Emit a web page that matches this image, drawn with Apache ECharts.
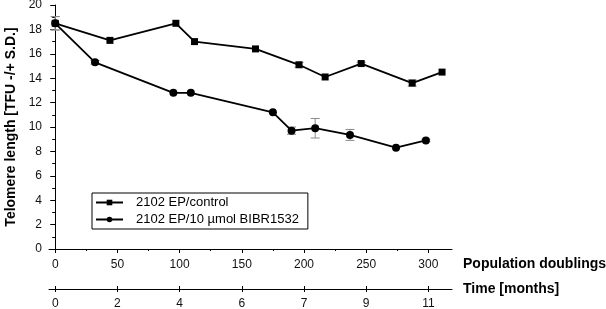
<!DOCTYPE html>
<html>
<head>
<meta charset="utf-8">
<script src="https://cdn.jsdelivr.net/npm/echarts@6/dist/echarts.min.js"></script>
<style>
  html, body { margin: 0; padding: 0; background: #fff; }
  #chart { width: 606px; height: 309px; }
</style>
</head>
<body>
<div id="chart"></div>
<script>
// Telomere length vs population doublings (control vs BIBR1532)
const FONT = "'Liberation Sans', Arial, sans-serif";

const popControl = [0, 44, 97, 112, 161, 196, 217, 246, 287, 311];
const telControl = [18.5, 17.1, 18.5, 17.0, 16.4, 15.1, 14.1, 15.2, 13.6, 14.5];
const sdControl = [0.55, 0, 0, 0, 0, 0.2, 0, 0.1, 0.25, 0];

const popBibr = [0, 32, 95, 109, 175, 190, 209, 237, 274, 298];
const telBibr = [18.5, 15.3, 12.8, 12.8, 11.2, 9.7, 9.9, 9.35, 8.3, 8.9];
const sdBibr = [0.55, 0.15, 0, 0, 0, 0.3, 0.8, 0.45, 0, 0.1];

const popTicks = [0, 50, 100, 150, 200, 250, 300];
const popMinorTicks = [25, 75, 125, 175, 225, 275];
const monthLabels = ["0", "2", "4", "6", "7", "9", "11"];

const chart = echarts.init(document.getElementById("chart"), null, { renderer: "canvas" });

const errorBars = (pop, tel, sd) => ({
  type: "custom",
  silent: true,
  z: 1,
  data: pop.map((p, i) => [p, tel[i], sd[i]]),
  renderItem: (params, api) => {
    const e = api.value(2);
    if (!e) return null;
    const top = api.coord([api.value(0), api.value(1) + e]);
    const bot = api.coord([api.value(0), api.value(1) - e]);
    const w = 4.5;
    const style = { stroke: "#8a8a8a", lineWidth: 1 };
    return {
      type: "group",
      children: [
        { type: "line", shape: { x1: top[0], y1: top[1], x2: bot[0], y2: bot[1] }, style },
        { type: "line", shape: { x1: top[0] - w, y1: top[1], x2: top[0] + w, y2: top[1] }, style },
        { type: "line", shape: { x1: bot[0] - w, y1: bot[1], x2: bot[0] + w, y2: bot[1] }, style },
      ],
    };
  },
});

const baseX = { type: "value", min: -5, max: 319, position: "bottom", splitLine: { show: false } };
const axisLineStyle = { show: true, lineStyle: { color: "#000", width: 1 } };
const labelStyle = { color: "#111", fontSize: 12, fontFamily: FONT };

const option = {
  backgroundColor: "#fff",
  animation: false,
  grid: { left: 49, right: 154, top: 5, bottom: 60, outerBoundsMode: "none", containLabel: false },
  legend: {
    left: 92,
    top: 193,
    orient: "vertical",
    data: ["2102 EP/control", "2102 EP/10 µmol BIBR1532"],
    itemWidth: 27,
    itemHeight: 7,
    itemGap: 4,
    padding: [3, 9, 3, 3],
    borderColor: "#000",
    borderWidth: 1,
    borderRadius: 0,
    textStyle: { color: "#000", fontSize: 13, fontFamily: FONT, padding: [0, 0, 0, 8] },
  },
  xAxis: [
    {
      ...baseX,
      axisLine: axisLineStyle,
      axisTick: { show: true, length: 4, customValues: popTicks, lineStyle: { color: "#000" } },
      axisLabel: { ...labelStyle, margin: 10, customValues: popTicks },
    },
    {
      ...baseX,
      axisLine: { show: false },
      axisTick: { show: true, length: 2, customValues: popMinorTicks, lineStyle: { color: "#000" } },
      axisLabel: { show: false },
    },
    {
      ...baseX,
      offset: 40,
      axisLine: axisLineStyle,
      axisTick: { show: true, length: 3, customValues: popTicks, lineStyle: { color: "#000" } },
      axisLabel: {
        ...labelStyle,
        margin: 9,
        customValues: popTicks,
        formatter: (v) => monthLabels[popTicks.indexOf(v)] ?? "",
      },
    },
    {
      ...baseX,
      offset: 40,
      axisLine: { show: false },
      axisTick: { show: true, inside: true, length: 3, customValues: popTicks, lineStyle: { color: "#000" } },
      axisLabel: { show: false },
    },
  ],
  yAxis: {
    type: "value",
    min: 0,
    max: 20,
    interval: 2,
    name: "Telomere length [TFU -/+ S.D.]",
    nameLocation: "middle",
    nameGap: 28,
    nameTextStyle: { color: "#000", fontSize: 14, fontWeight: "bold", fontFamily: FONT },
    axisLine: axisLineStyle,
    axisTick: { show: true, length: 5, lineStyle: { color: "#000" } },
    minorTick: { show: true, splitNumber: 2, length: 3, lineStyle: { color: "#000" } },
    axisLabel: { ...labelStyle, margin: 7 },
    splitLine: { show: false },
    minorSplitLine: { show: false },
  },
  graphic: [
    {
      type: "text",
      left: 463,
      top: 257,
      style: { text: "Population doublings", font: `bold 14px ${FONT}`, fill: "#000" },
    },
    {
      type: "text",
      left: 463,
      top: 282,
      style: { text: "Time [months]", font: `bold 14px ${FONT}`, fill: "#000" },
    },
  ],
  series: [
    errorBars(popControl, telControl, sdControl),
    errorBars(popBibr, telBibr, sdBibr),
    {
      name: "2102 EP/control",
      type: "line",
      z: 3,
      data: popControl.map((p, i) => [p, telControl[i]]),
      symbol: "rect",
      symbolSize: 7,
      lineStyle: { color: "#000", width: 1.8 },
      itemStyle: { color: "#000" },
    },
    {
      name: "2102 EP/10 µmol BIBR1532",
      type: "line",
      z: 3,
      data: popBibr.map((p, i) => [p, telBibr[i]]),
      symbol: "circle",
      symbolSize: 8,
      lineStyle: { color: "#000", width: 1.8 },
      itemStyle: { color: "#000" },
    },
  ],
};

chart.setOption(option);
</script>
</body>
</html>
